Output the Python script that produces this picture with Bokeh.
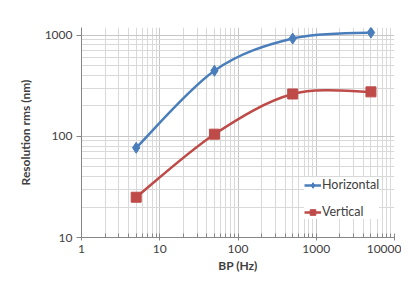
import numpy as np
from bokeh.plotting import figure
from bokeh.models import (FixedTicker, PrintfTickFormatter, Legend, LegendItem, Range1d)
from bokeh.embed import file_html
from bokeh.resources import INLINE

bp = [5, 50, 500, 5000]
horizontal = [77, 445, 925, 1060]
vertical = [25, 105, 262, 275]
x_ticks = [1, 10, 100, 1000, 10000]
y_ticks = [10, 100, 1000]

BLUE = "#4a7ebb"
RED = "#be4b48"
FONT = "Lato"

p = figure(width=401, height=276, x_axis_type="log", y_axis_type="log",
           x_range=Range1d(1, 10000), y_range=Range1d(10, 1190),
           output_backend="svg", toolbar_location=None,
           min_border_left=81, min_border_right=7, min_border_top=27,
           min_border_bottom=39)
p.outline_line_color = None
p.background_fill_color = "white"
p.border_fill_color = "white"


def smooth_segments(xs, ys, t=1/6):
    lx = np.log10(xs)
    ly = np.log10(ys)
    n = len(lx)
    out = {k: [] for k in ["x0", "y0", "x1", "y1", "cx0", "cy0", "cx1", "cy1"]}
    for i in range(n - 1):
        im1 = max(i - 1, 0)
        ip2 = min(i + 2, n - 1)
        c0x = lx[i] + (lx[i + 1] - lx[im1]) * t
        c0y = ly[i] + (ly[i + 1] - ly[im1]) * t
        c1x = lx[i + 1] - (lx[ip2] - lx[i]) * t
        c1y = ly[i + 1] - (ly[ip2] - ly[i]) * t
        out["x0"].append(xs[i]); out["y0"].append(ys[i])
        out["x1"].append(xs[i + 1]); out["y1"].append(ys[i + 1])
        out["cx0"].append(10 ** c0x); out["cy0"].append(10 ** c0y)
        out["cx1"].append(10 ** c1x); out["cy1"].append(10 ** c1y)
    return out


items = []
for name, ys, color, marker, size in [("Horizontal", horizontal, BLUE, "diamond", 11),
                                       ("Vertical", vertical, RED, "square", 10)]:
    seg = smooth_segments(bp, ys)
    p.bezier(line_color=color, line_width=2.5, **seg)
    lr = p.line(x=[np.nan], y=[np.nan], line_color=color, line_width=2.5)
    sr = p.scatter(bp, ys, marker=marker, size=size, fill_color=color, line_color=color)
    items.append(LegendItem(label=name, renderers=[lr, sr]))

legend = Legend(items=items, location=(223, 18), glyph_width=17, glyph_height=14,
                label_standoff=1, spacing=12, padding=6, margin=0,
                border_line_color=None, background_fill_color="white",
                background_fill_alpha=1.0,
                label_text_font=FONT, label_text_font_size="12.5px",
                label_text_color="#404040")
p.add_layout(legend, "center")

minor_x = [m * d for d in [1, 10, 100, 1000] for m in range(2, 10)]
minor_y = [m * d for d in [10, 100] for m in range(2, 10)]

p.xaxis.ticker = FixedTicker(ticks=x_ticks, minor_ticks=minor_x)
p.yaxis.ticker = FixedTicker(ticks=y_ticks, minor_ticks=minor_y)
p.xaxis.formatter = PrintfTickFormatter(format="%d")
p.yaxis.formatter = PrintfTickFormatter(format="%d")

for ax in (p.xaxis, p.yaxis):
    ax.axis_line_color = "#868686"
    ax.major_tick_line_color = "#868686"
    ax.minor_tick_line_color = "#868686"
    ax.major_tick_out = 5
    ax.major_tick_in = 0
    ax.minor_tick_out = 0
    ax.minor_tick_in = 0
    ax.major_label_text_font = FONT
    ax.major_label_text_font_size = "12px"
    ax.major_label_text_color = "#404040"
    ax.axis_label_text_font = FONT
    ax.axis_label_text_font_size = "12px"
    ax.axis_label_text_font_style = "bold"
    ax.axis_label_text_color = "#404040"

p.xaxis.minor_tick_in = 4
p.xaxis.major_tick_in = 4
p.xaxis.major_tick_out = 3
p.xaxis.major_label_standoff = 4
p.xaxis.axis_label_standoff = 2
p.yaxis.major_label_standoff = 4
p.xaxis.axis_label = "BP (Hz)"
p.yaxis.axis_label = "Resolution rms (nm)"
p.yaxis.axis_label_standoff = 9

for g in (p.xgrid, p.ygrid):
    g.grid_line_color = "#c6c6c6"
    g.grid_line_width = 1
    g.minor_grid_line_color = "#d9d9d9"
    g.minor_grid_line_width = 1

open("out.html", "w").write(file_html(p, INLINE))
